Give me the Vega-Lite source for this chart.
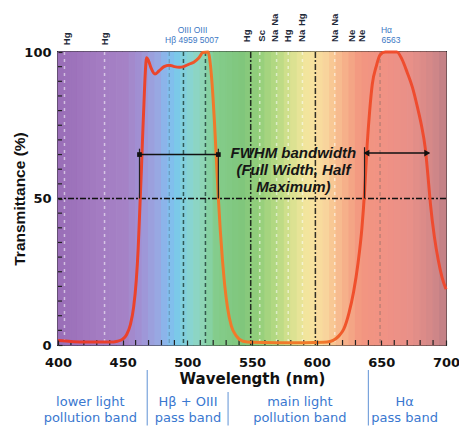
{
  "$schema": "https://vega.github.io/schema/vega-lite/v6.json",
  "width": 388,
  "height": 293,
  "autosize": {"type": "none"},
  "padding": {"left": 58, "top": 52, "right": 13, "bottom": 81},
  "background": "white",
  "config": {"view": {"stroke": "#2e2e2e", "strokeWidth": 2}, "font": "Liberation Sans"},
  "datasets": {
    "spectrum": [
      {"a":400,"b":405},{"a":405,"b":410},{"a":410,"b":415},{"a":415,"b":420},{"a":420,"b":425},{"a":425,"b":430},
      {"a":430,"b":435},{"a":435,"b":440},{"a":440,"b":445},{"a":445,"b":450},{"a":450,"b":455},{"a":455,"b":460},
      {"a":460,"b":465},{"a":465,"b":470},{"a":470,"b":475},{"a":475,"b":480},{"a":480,"b":485},{"a":485,"b":490},
      {"a":490,"b":495},{"a":495,"b":500},{"a":500,"b":505},{"a":505,"b":510},{"a":510,"b":515},{"a":515,"b":520},
      {"a":520,"b":525},{"a":525,"b":530},{"a":530,"b":535},{"a":535,"b":540},{"a":540,"b":545},{"a":545,"b":550},
      {"a":550,"b":555},{"a":555,"b":560},{"a":560,"b":565},{"a":565,"b":570},{"a":570,"b":575},{"a":575,"b":580},
      {"a":580,"b":585},{"a":585,"b":590},{"a":590,"b":595},{"a":595,"b":600},{"a":600,"b":605},{"a":605,"b":610},
      {"a":610,"b":615},{"a":615,"b":620},{"a":620,"b":625},{"a":625,"b":630},{"a":630,"b":635},{"a":635,"b":640},
      {"a":640,"b":645},{"a":645,"b":650},{"a":650,"b":655},{"a":655,"b":660},{"a":660,"b":665},{"a":665,"b":670},
      {"a":670,"b":675},{"a":675,"b":680},{"a":680,"b":685},{"a":685,"b":690},{"a":690,"b":695},{"a":695,"b":700}
    ],
    "curve": [
      {"w":400,"T":1.5},{"w":410,"T":1.2},{"w":420,"T":1},{"w":430,"T":1},{"w":440,"T":1},{"w":446,"T":1.3},
      {"w":450,"T":2},{"w":453,"T":3.5},{"w":456,"T":7},{"w":458.5,"T":13},{"w":460.5,"T":22},{"w":462,"T":33},
      {"w":463.3,"T":47},{"w":464.5,"T":60},{"w":465.5,"T":72},{"w":466.5,"T":83},{"w":467.5,"T":93},{"w":468.5,"T":98},
      {"w":470,"T":97},{"w":472,"T":94.5},{"w":475,"T":92.5},{"w":478,"T":93.5},{"w":482,"T":95},{"w":486,"T":95.5},
      {"w":490,"T":95},{"w":494,"T":94.8},{"w":497,"T":95},{"w":501,"T":95.8},{"w":505,"T":96.5},{"w":509,"T":98},
      {"w":512,"T":99.8},{"w":516,"T":100},{"w":518,"T":95},{"w":519.5,"T":87},{"w":521,"T":76},{"w":522.5,"T":63},
      {"w":524,"T":50},{"w":525.5,"T":39},{"w":527,"T":30},{"w":529,"T":20},{"w":531,"T":13},{"w":534,"T":6.5},
      {"w":538,"T":3},{"w":543,"T":1.3},{"w":550,"T":0.9},{"w":570,"T":0.8},{"w":590,"T":0.8},{"w":605,"T":0.9},
      {"w":611,"T":1.3},{"w":615,"T":2.2},{"w":618,"T":3.5},{"w":621,"T":5.5},{"w":625,"T":11},{"w":628.5,"T":18},
      {"w":632,"T":28},{"w":635,"T":40},{"w":637,"T":52},{"w":639,"T":68},{"w":641,"T":80},{"w":643,"T":89},
      {"w":646,"T":95},{"w":649,"T":99},{"w":653,"T":100},{"w":662,"T":100},{"w":666,"T":97.5},{"w":670,"T":93},
      {"w":674,"T":88},{"w":678,"T":81},{"w":681,"T":75},{"w":684,"T":67},{"w":686,"T":58},{"w":688,"T":48},
      {"w":691,"T":37},{"w":694,"T":29},{"w":697,"T":23},{"w":700,"T":19}
    ],
    "xMinor": [
      {"w":410},{"w":420},{"w":430},{"w":440},{"w":460},{"w":470},{"w":480},{"w":490},{"w":510},{"w":520},
      {"w":530},{"w":540},{"w":560},{"w":570},{"w":580},{"w":590},{"w":610},{"w":620},{"w":630},{"w":640},
      {"w":660},{"w":670},{"w":680},{"w":690}
    ],
    "yMinor": [
      {"t":5},{"t":10},{"t":15},{"t":20},{"t":25},{"t":30},{"t":35},{"t":40},{"t":45},
      {"t":55},{"t":60},{"t":65},{"t":70},{"t":75},{"t":80},{"t":85},{"t":90},{"t":95}
    ],
    "lightLines": [{"w":405},{"w":436},{"w":556},{"w":569},{"w":578},{"w":589},{"w":614}],
    "darkLines": [{"w":497},{"w":514}],
    "faintLines": [{"w":486},{"w":649}],
    "dashDotLines": [{"w":549},{"w":599}],
    "half": [{"t":50}],
    "fwhm": [{"x1":463,"x2":524,"t":65},{"x1":637,"x2":687,"t":65.5}],
    "fwhmTicks": [{"w":463,"t1":50,"t2":67},{"w":524,"t1":50,"t2":67},{"w":637,"t1":50,"t2":67.5}],
    "leftEnds": [{"w":463,"t":65},{"w":524,"t":65}],
    "arrowL": [{"w":638.5,"t":65.5}],
    "arrowR": [{"w":685.5,"t":65.5}],
    "fwhmText": [
      {"w":582,"t":65.5,"s":"FWHM bandwidth"},
      {"w":582,"t":59.7,"s":"(Full Width, Half"},
      {"w":582,"t":54,"s":"Maximum)"}
    ],
    "darkLabels": [
      {"w":407,"t":104.5,"s":"Hg"},{"w":436,"t":104.5,"s":"Hg"},
      {"w":546,"t":105.5,"s":"Hg"},{"w":558,"t":105.5,"s":"Sc"},{"w":568,"t":105.5,"s":"Na"},
      {"w":578,"t":105.5,"s":"Hg"},{"w":589,"t":105.5,"s":"Na"},{"w":614,"t":105.5,"s":"Na"},
      {"w":627,"t":105.5,"s":"Ne"},{"w":635,"t":105.5,"s":"Ne"},
      {"w":568,"t":111,"s":"Na"},{"w":589,"t":111,"s":"Hg"},{"w":614,"t":111,"s":"Na"}
    ],
    "blueTop": [
      {"w":504,"t":107.6,"s":"OIII  OIII"},
      {"w":503.5,"t":104,"s":"Hβ 4959 5007"},
      {"w":654,"t":107.6,"s":"Hα"},
      {"w":657.5,"t":104,"s":"6563"}
    ],
    "bandText": [
      {"w":425,"t":-19.5,"s":"lower light"},{"w":425,"t":-24.9,"s":"pollution band"},
      {"w":500.5,"t":-19.5,"s":"Hβ + OIII"},{"w":500.5,"t":-24.9,"s":"pass band"},
      {"w":587,"t":-19.5,"s":"main light"},{"w":587,"t":-24.9,"s":"pollution band"},
      {"w":668,"t":-19.5,"s":"Hα"},{"w":668,"t":-24.9,"s":"pass band"}
    ],
    "separators": [
      {"w":469,"t1":-8.5,"t2":-27.5},{"w":531.5,"t1":-16,"t2":-27.5},{"w":640,"t1":-8.5,"t2":-27.5}
    ]
  },
  "layer": [
    {
      "data": {"name": "spectrum"},
      "mark": {"type": "rect", "strokeWidth": 1},
      "encoding": {
        "x": {"field": "a", "type": "quantitative", "scale": {"domain": [400, 700], "nice": false, "zero": false},
          "axis": {"values": [400, 450, 500, 550, 600, 650, 700],
            "labelFlush": false, "labelOverlap": false, "domain": false, "grid": false, "zindex": 1,
            "tickSize": -5, "tickColor": "#222222", "tickWidth": 1.2,
            "labelFont": "DejaVu Sans", "labelFontSize": 13, "labelFontWeight": "bold", "labelColor": "#111111", "labelPadding": 16,
            "title": "Wavelength (nm)", "titleFont": "DejaVu Sans", "titleFontSize": 15, "titleFontWeight": "bold", "titleColor": "#111111", "titlePadding": 2}},
        "x2": {"field": "b"},
        "y": {"datum": 0, "type": "quantitative", "scale": {"domain": [0, 100], "nice": false},
          "axis": {"values": [0, 50, 100],
            "labelOverlap": false, "domain": false, "grid": false, "zindex": 1,
            "tickSize": -4, "tickColor": "#222222", "tickWidth": 1.2,
            "labelFont": "DejaVu Sans", "labelFontSize": 13, "labelFontWeight": "bold", "labelColor": "#111111", "labelPadding": 11,
            "title": "Transmittance (%)", "titleFont": "Liberation Sans", "titleFontSize": 15.5, "titleFontWeight": "bold", "titleColor": "#111111", "titlePadding": -4}},
        "y2": {"datum": 100},
        "color": {"field": "a", "type": "quantitative", "legend": null,
          "scale": {"domain": [400,430,450,462,475,488,497,508,520,540,555,568,580,592,605,618,632,650,670,688,700],
                    "range": ["#9a6fb8","#a47cc2","#a582c6","#a092d4","#98a8e2","#7cc6ee","#88d2d8","#92d6bc","#84cc8c","#80c67c","#98d07c","#b8da84","#dce292","#f6e6a0","#f8d49c","#f6b48c","#f29680","#f09284","#e89088","#d28888","#bc7e86"]}},
        "stroke": {"field": "a", "type": "quantitative", "legend": null,
          "scale": {"domain": [400,430,450,462,475,488,497,508,520,540,555,568,580,592,605,618,632,650,670,688,700],
                    "range": ["#9a6fb8","#a47cc2","#a582c6","#a092d4","#98a8e2","#7cc6ee","#88d2d8","#92d6bc","#84cc8c","#80c67c","#98d07c","#b8da84","#dce292","#f6e6a0","#f8d49c","#f6b48c","#f29680","#f09284","#e89088","#d28888","#bc7e86"]}}
      }
    },
    {
      "data": {"name": "xMinor"},
      "mark": {"type": "rule", "color": "#222222", "strokeWidth": 1.2},
      "encoding": {
        "x": {"field": "w", "type": "quantitative"},
        "y": {"datum": 0, "type": "quantitative"},
        "y2": {"datum": 1.7}
      }
    },
    {
      "data": {"name": "yMinor"},
      "mark": {"type": "rule", "color": "#222222", "strokeWidth": 1.2},
      "encoding": {
        "y": {"field": "t", "type": "quantitative"},
        "x": {"datum": 400, "type": "quantitative"},
        "x2": {"datum": 403.1}
      }
    },
    {
      "data": {"name": "lightLines"},
      "mark": {"type": "rule", "color": "#ffffff", "strokeDash": [3, 4], "strokeWidth": 1.5, "opacity": 0.55},
      "encoding": {"x": {"field": "w", "type": "quantitative"}}
    },
    {
      "data": {"name": "faintLines"},
      "mark": {"type": "rule", "color": "#3a4a50", "strokeDash": [4, 3], "strokeWidth": 1, "opacity": 0.4},
      "encoding": {"x": {"field": "w", "type": "quantitative"}}
    },
    {
      "data": {"name": "darkLines"},
      "mark": {"type": "rule", "color": "#1d3a32", "strokeDash": [4, 3], "strokeWidth": 1.5, "opacity": 0.8},
      "encoding": {"x": {"field": "w", "type": "quantitative"}}
    },
    {
      "data": {"name": "dashDotLines"},
      "mark": {"type": "rule", "color": "#111111", "strokeDash": [6, 2, 2, 2], "strokeWidth": 1.5, "opacity": 0.85},
      "encoding": {"x": {"field": "w", "type": "quantitative"}}
    },
    {
      "data": {"name": "half"},
      "mark": {"type": "rule", "color": "#111111", "strokeDash": [6, 2, 2, 2], "strokeWidth": 1.3},
      "encoding": {"y": {"field": "t", "type": "quantitative"}}
    },
    {
      "data": {"name": "curve"},
      "mark": {"type": "line", "strokeWidth": 3, "interpolate": "monotone",
        "stroke": {"gradient": "linear", "x1": 0, "x2": 1, "y1": 0, "y2": 0,
          "stops": [
            {"offset": 0, "color": "#e8382c"},
            {"offset": 0.33, "color": "#ec4a2c"},
            {"offset": 0.4, "color": "#f07a2a"},
            {"offset": 0.68, "color": "#f07a2a"},
            {"offset": 0.75, "color": "#f0502c"},
            {"offset": 1, "color": "#ee4a30"}
          ]}},
      "encoding": {
        "x": {"field": "w", "type": "quantitative"},
        "y": {"field": "T", "type": "quantitative"}
      }
    },
    {
      "data": {"name": "fwhm"},
      "mark": {"type": "rule", "color": "#111111", "strokeWidth": 1.5},
      "encoding": {
        "x": {"field": "x1", "type": "quantitative"},
        "x2": {"field": "x2"},
        "y": {"field": "t", "type": "quantitative"}
      }
    },
    {
      "data": {"name": "fwhmTicks"},
      "mark": {"type": "rule", "color": "#222222", "strokeWidth": 1.2},
      "encoding": {
        "x": {"field": "w", "type": "quantitative"},
        "y": {"field": "t1", "type": "quantitative"},
        "y2": {"field": "t2"}
      }
    },
    {
      "data": {"name": "leftEnds"},
      "mark": {"type": "point", "shape": "square", "filled": true, "color": "#111111", "size": 22, "opacity": 1},
      "encoding": {
        "x": {"field": "w", "type": "quantitative"},
        "y": {"field": "t", "type": "quantitative"}
      }
    },
    {
      "data": {"name": "arrowL"},
      "mark": {"type": "point", "shape": "triangle-left", "filled": true, "color": "#111111", "size": 45, "opacity": 1},
      "encoding": {
        "x": {"field": "w", "type": "quantitative"},
        "y": {"field": "t", "type": "quantitative"}
      }
    },
    {
      "data": {"name": "arrowR"},
      "mark": {"type": "point", "shape": "triangle-right", "filled": true, "color": "#111111", "size": 45, "opacity": 1},
      "encoding": {
        "x": {"field": "w", "type": "quantitative"},
        "y": {"field": "t", "type": "quantitative"}
      }
    },
    {
      "data": {"name": "fwhmText"},
      "mark": {"type": "text", "font": "Liberation Sans", "fontSize": 15, "fontWeight": "bold", "fontStyle": "italic", "color": "#161616", "align": "center", "baseline": "middle"},
      "encoding": {
        "x": {"field": "w", "type": "quantitative"},
        "y": {"field": "t", "type": "quantitative"},
        "text": {"field": "s"}
      }
    },
    {
      "data": {"name": "darkLabels"},
      "mark": {"type": "text", "font": "Liberation Sans", "fontSize": 9.5, "fontWeight": "bold", "color": "#1e2a3a", "angle": 270, "align": "center", "baseline": "middle"},
      "encoding": {
        "x": {"field": "w", "type": "quantitative"},
        "y": {"field": "t", "type": "quantitative"},
        "text": {"field": "s"}
      }
    },
    {
      "data": {"name": "blueTop"},
      "mark": {"type": "text", "font": "Liberation Sans", "fontSize": 8.5, "color": "#3c78c4", "align": "center", "baseline": "middle"},
      "encoding": {
        "x": {"field": "w", "type": "quantitative"},
        "y": {"field": "t", "type": "quantitative"},
        "text": {"field": "s"}
      }
    },
    {
      "data": {"name": "separators"},
      "mark": {"type": "rule", "color": "#7aa4dc", "strokeWidth": 1.2},
      "encoding": {
        "x": {"field": "w", "type": "quantitative"},
        "y": {"field": "t1", "type": "quantitative"},
        "y2": {"field": "t2"}
      }
    },
    {
      "data": {"name": "bandText"},
      "mark": {"type": "text", "font": "DejaVu Sans", "fontSize": 13, "color": "#3a78d0", "align": "center", "baseline": "middle"},
      "encoding": {
        "x": {"field": "w", "type": "quantitative"},
        "y": {"field": "t", "type": "quantitative"},
        "text": {"field": "s"}
      }
    }
  ]
}
